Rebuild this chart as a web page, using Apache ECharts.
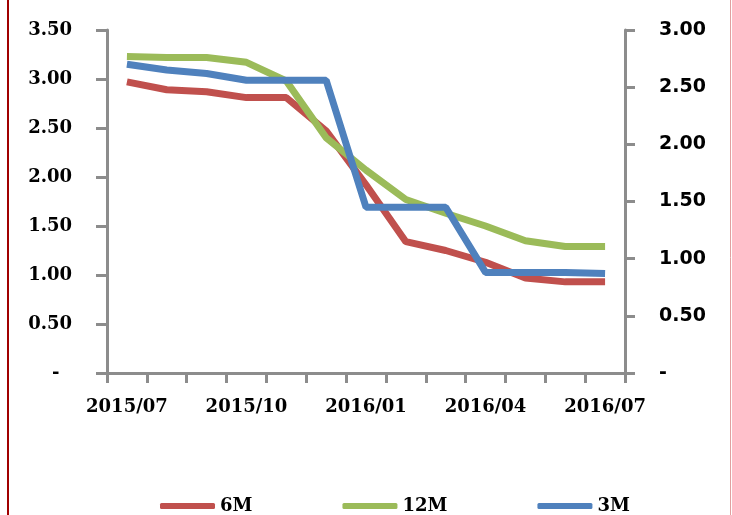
<!DOCTYPE html>
<html><head><meta charset="utf-8">
<script src="https://cdn.jsdelivr.net/npm/echarts@6/dist/echarts.min.js"></script>
<style>html,body{margin:0;padding:0;background:#fff}#c{width:732px;height:515px}</style>
</head><body><div id="c"></div>
<script>
var categories = ['2015/07','2015/08','2015/09','2015/10','2015/11','2015/12','2016/01','2016/02','2016/03','2016/04','2016/05','2016/06','2016/07'];
var s6M  = [2.97,2.89,2.87,2.81,2.81,2.47,1.92,1.34,1.25,1.13,0.97,0.93,0.93];
var s12M = [3.23,3.22,3.22,3.17,2.98,2.40,2.07,1.77,1.63,1.50,1.35,1.29,1.29];
var s3M  = [2.70,2.65,2.62,2.56,2.56,2.56,1.45,1.45,1.45,0.88,0.88,0.88,0.87];
var leftTicks = {min:0, max:3.5, interval:0.5};
var rightTicks = {min:0, max:3.0, interval:0.5};

var chart = echarts.init(document.getElementById('c'), null, {renderer:'canvas'});
var axisColor = '#8c8c8c';
var serif = 'DejaVu Serif';
function fmtL(v){ return v === 0 ? '-  ' : v.toFixed(2); }
function fmtR(v){ return v === 0 ? '-' : v.toFixed(2); }
chart.setOption({
  backgroundColor:'#fff',
  animation:false,
  grid:{left:107, right:107, top:30, bottom:142, containLabel:false},
  legend:{
    data:['6M','12M','3M'], left:160, top:497, padding:0, itemGap:90,
    itemWidth:55, itemHeight:6, icon:'roundRect',
    textStyle:{fontFamily:serif, fontWeight:'bold', fontSize:18, color:'#000'}
  },
  xAxis:{
    type:'category', data:categories, boundaryGap:true,
    axisLine:{lineStyle:{color:axisColor, width:3}},
    axisTick:{show:true, interval:0, length:10, lineStyle:{color:axisColor, width:3}},
    axisLabel:{interval:2, margin:25, color:'#000', fontFamily:serif, fontWeight:'bold', fontSize:18}
  },
  yAxis:[{
    type:'value', position:'left', min:leftTicks.min, max:leftTicks.max, interval:leftTicks.interval,
    splitLine:{show:false},
    axisLine:{show:true, lineStyle:{color:axisColor, width:3}},
    axisTick:{show:true, length:11, lineStyle:{color:axisColor, width:3}},
    axisLabel:{margin:35, formatter:fmtL, color:'#000', fontFamily:serif, fontWeight:'bold', fontSize:18}
  },{
    type:'value', position:'right', min:rightTicks.min, max:rightTicks.max, interval:rightTicks.interval,
    splitLine:{show:false},
    axisLine:{show:true, lineStyle:{color:axisColor, width:3}},
    axisTick:{show:true, length:10, lineStyle:{color:axisColor, width:3}},
    axisLabel:{margin:34, formatter:fmtR, color:'#000', fontFamily:'DejaVu Sans', fontWeight:'bold', fontSize:19}
  }],
  series:[
    {name:'6M', type:'line', yAxisIndex:0, data:s6M, showSymbol:false, symbol:'none', lineStyle:{width:7, color:'#c0504d'}, itemStyle:{color:'#c0504d'}},
    {name:'12M', type:'line', yAxisIndex:0, data:s12M, showSymbol:false, symbol:'none', lineStyle:{width:7, color:'#9bbb59'}, itemStyle:{color:'#9bbb59'}},
    {name:'3M', type:'line', yAxisIndex:1, data:s3M, showSymbol:false, symbol:'none', lineStyle:{width:7, color:'#4f81bd'}, itemStyle:{color:'#4f81bd'}}
  ],
  graphic:[
    {type:'line', shape:{x1:8, y1:0, x2:8, y2:515}, style:{stroke:'#a00000', lineWidth:2}, silent:true},
    {type:'line', shape:{x1:730.5, y1:0, x2:730.5, y2:515}, style:{stroke:'#e0a0a0', lineWidth:1}, silent:true}
  ]
});
</script></body></html>
